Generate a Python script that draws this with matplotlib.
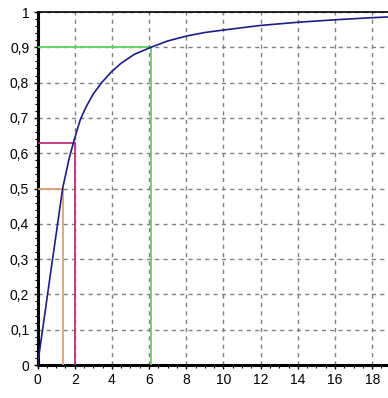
import matplotlib
matplotlib.use("Agg")
import matplotlib.pyplot as plt
from matplotlib.ticker import MultipleLocator, FuncFormatter

# curve
curve_x = [0, 0.3, 0.7, 1.0, 1.35, 1.7, 2.0, 2.3, 2.6, 3.0, 3.45, 4.0, 4.5, 5.2,
           6.1, 7.0, 8.1, 9.0, 10.0, 12.0, 14.0, 16.0, 18.0, 18.85]
curve_y = [0, 0.11, 0.26, 0.37, 0.50, 0.585, 0.643, 0.695, 0.73, 0.768, 0.80, 0.832,
           0.855, 0.88, 0.90, 0.918, 0.933, 0.942, 0.949, 0.962, 0.971, 0.978, 0.984, 0.986]

# marker lines: (x, y, colour)
marks_x = [1.35, 2.0, 6.1]
marks_y = [0.5, 0.63, 0.9]
marks_c = ["#e0a070", "#c0307a", "#5cd65c"]

x_ticks = list(range(0, 20, 2))
y_ticks = [i / 10 for i in range(11)]


def comma(v, pos):
    if abs(v - round(v)) < 1e-9:
        return str(int(round(v)))
    return f"{v:.1f}".replace(".", ",")


plt.rcParams["font.family"] = ["Liberation Sans", "DejaVu Sans"]

fig = plt.figure(figsize=(3.88, 3.98), dpi=100)
ax = fig.add_axes([0.0967, 0.0829, 0.9033, 0.8869])

for mx, my, mc in zip(marks_x, marks_y, marks_c):
    ax.plot([0, mx], [my, my], color=mc, lw=1.3, zorder=3)
    ax.plot([mx, mx], [0, my], color=mc, lw=1.3, zorder=3)

ax.plot(curve_x, curve_y, color="#1c1c8a", lw=1.2, zorder=4)

ax.set_xlim(0, 18.85)
ax.set_ylim(0, 1)
ax.set_xticks(x_ticks)
ax.set_yticks(y_ticks)
ax.xaxis.set_minor_locator(MultipleLocator(0.5))
ax.yaxis.set_minor_locator(MultipleLocator(0.02))
ax.yaxis.set_major_formatter(FuncFormatter(comma))
ax.xaxis.set_major_formatter(FuncFormatter(comma))
ax.tick_params(which="major", length=3, width=1, labelsize=10, pad=3, colors="black")
ax.tick_params(which="minor", length=2, width=0.8)

ax.grid(True, which="major", color="#808080", linestyle=(0, (3, 3)), lw=1)
ax.set_axisbelow(True)

ax.spines["right"].set_visible(False)
ax.spines["left"].set_linewidth(2.2)
ax.spines["bottom"].set_linewidth(2.2)
ax.spines["top"].set_linewidth(1.2)

fig.savefig("out.png", dpi=100)
